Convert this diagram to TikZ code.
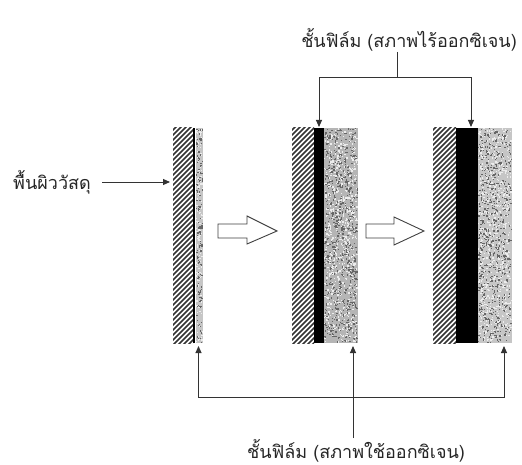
\documentclass[tikz,border=0pt]{standalone}
\usepackage{fontspec}
\newfontfamily\thaifont[Script=Thai]{Loma}
\usetikzlibrary{arrows.meta}

% diagonal hatching (material surface) inside a rectangle x0,x1,y0,y1
\newcommand\hatchband[4]{%
  \begin{scope}
    \clip (#1,#3) rectangle (#2,#4);
    \foreach \s in {-240,-235,...,40}
      \draw[line width=1.6pt, black!80] (#1+\s,#4+2) -- ++(260,-260);
  \end{scope}}

% grainy grey film layer inside a rectangle x0,x1,y0,y1 with a base tone
\newcommand\noiseband[6]{%
  \fill[#5] (#1,#3) rectangle (#2,#4);
  \foreach \i in {1,...,#6}{%
    \pgfmathsetmacro\nzx{#1+rnd*(#2-#1-1.3)}%
    \pgfmathsetmacro\nzy{#3+rnd*(#4-#3-1.3)}%
    \fill[black!60] (\nzx,\nzy) rectangle ++(1.3,1.3);
    \pgfmathsetmacro\nwx{#1+rnd*(#2-#1-1.3)}%
    \pgfmathsetmacro\nwy{#3+rnd*(#4-#3-1.3)}%
    \fill[white!85!gray] (\nwx,\nwy) rectangle ++(1.3,1.3);
  }}

\begin{document}
\begin{tikzpicture}[x=1pt,y=-1pt,
  conn/.style={line width=0.9pt, draw=black!80},
  arr/.style={conn, -{Triangle[length=7pt,width=6pt]}},
  lbl/.style={font=\thaifont\fontsize{18}{20}\selectfont, inner sep=1pt, text=black!85},
  hollow/.style={draw=black!75, line width=0.9pt, fill=white, line join=miter}]
\useasboundingbox[fill=white] (0,0) rectangle (522,465);
\pgfmathsetseed{11}

% ---- stage 1: bare surface ----
\hatchband{173}{193}{128}{343}
\fill[black] (193,128) rectangle (195.2,343);
\noiseband{196}{203}{128}{343}{gray!45}{140}

% ---- stage 2: thin oxide film ----
\hatchband{292}{314}{128}{343}
\fill[black] (314,128) rectangle (324,343);
\noiseband{324}{358}{128}{343}{gray!58}{700}

% ---- stage 3: thick oxide film ----
\hatchband{433}{456}{128}{343}
\fill[black] (456,128) rectangle (478,343);
\noiseband{478}{512}{128}{343}{gray!45}{700}

% ---- hollow process arrows ----
\draw[hollow] (218,224) -- (247,224) -- (247,216) -- (277,231) -- (247,244)
  -- (247,238) -- (218,238) -- cycle;
\draw[hollow] (366,224) -- (394,224) -- (394,217) -- (424,231) -- (394,245)
  -- (394,238) -- (366,238) -- cycle;

% ---- arrow targets ----
\coordinate (p1side) at (170,182);
\coordinate (p2top) at (319,127);
\coordinate (p3top) at (471,127);
\coordinate (p1bot) at (198.5,346);
\coordinate (p2bot) at (353,346);
\coordinate (p3bot) at (504,346);
\coordinate (tj) at (397,77);
\coordinate (bj) at (353,397);

% ---- labels ----
\node[lbl] (leftlbl) at (52,182) {พื้นผิววัสดุ};
\node[lbl, anchor=south] (toplbl) at (409,52) {ชั้นฟิล์ม (สภาพไร้ออกซิเจน)};
\node[lbl, anchor=north] (botlbl) at (356,438) {ชั้นฟิล์ม (สภาพใช้ออกซิเจน)};

% ---- connectors ----
\draw[arr] (leftlbl.east) ++(10,0) -- (p1side);
\draw[conn] (toplbl.south -| tj) -- (tj);
\draw[arr] (tj) -| (p2top);
\draw[arr] (tj) -| (p3top);
\draw[arr] (botlbl.north -| bj) -- (p2bot);
\draw[arr] (bj) -| (p1bot);
\draw[arr] (bj) -| (p3bot);
\end{tikzpicture}
\end{document}
